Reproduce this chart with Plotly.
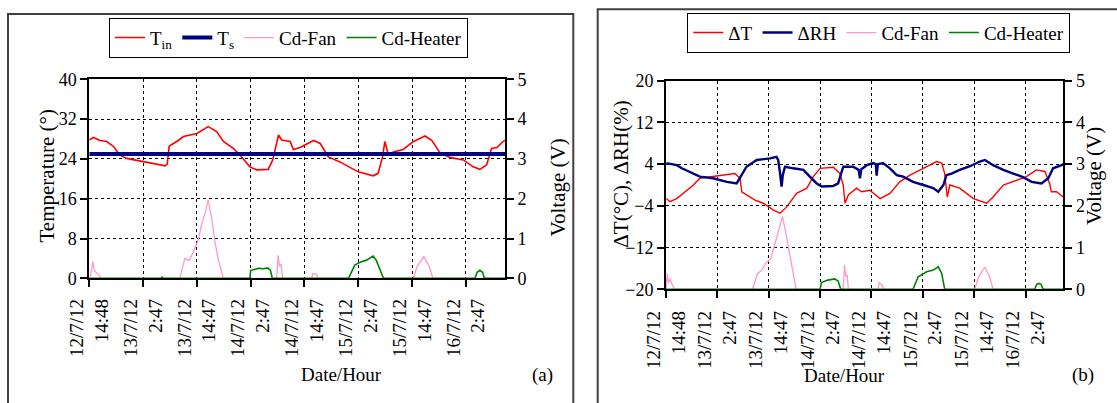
import plotly.graph_objects as go

# ---------------- data: panel (a) ----------------
tick_hours = [0, 11.98, 23.98, 35.98, 47.98, 59.98, 71.98, 83.98]
tick_labels = ["12/7/12<br>14:48", "13/7/12<br>2:47", "13/7/12<br>14:47", "14/7/12<br>2:47",
               "14/7/12<br>14:47", "15/7/12<br>2:47", "15/7/12<br>14:47", "16/7/12<br>2:47"]

a_tin_h = [0, 0.9, 2.4, 3.9, 5.4, 6.8, 8.3, 12.0, 15.8, 16.9, 17.4, 17.8, 18.2, 19.5, 21.0, 24.0,
           26.5, 28.4, 29.9, 32.1, 33.6, 35.8, 37.3, 39.9, 40.9, 41.4, 42.2, 42.9, 44.8, 45.5,
           47.0, 50.0, 51.5, 53.3, 55.9, 58.1, 60.0, 63.3, 64.4, 65.4, 65.9, 66.7, 67.8, 70.0,
           72.3, 74.9, 76.4, 78.2, 80.4, 83.4, 85.6, 87.1, 88.6, 89.7, 90.9, 92.3, 92.7]
a_tin = [27.8, 28.3, 27.7, 27.5, 26.5, 24.8, 24.1, 23.4, 22.8, 22.6, 23.0, 26.5, 26.8, 27.5, 28.5,
         29.1, 30.5, 29.5, 27.5, 26.1, 24.8, 22.4, 21.8, 21.9, 23.8, 25.8, 28.8, 27.8, 27.5, 25.9,
         26.3, 27.7, 27.1, 24.4, 23.4, 22.3, 21.4, 20.6, 21.1, 24.4, 27.5, 24.8, 25.4, 25.9,
         27.5, 28.6, 27.7, 25.2, 24.3, 23.8, 22.4, 21.9, 22.8, 26.1, 26.3, 27.5, 27.8]
a_ts_h = [0, 92.7]
a_ts = [25.0, 25.0]

a_fan_h = [0, 0.4, 0.8, 1.1, 1.5, 2.2, 2.6, 20.2, 21.3, 22.3, 23.2, 24.3, 25.1, 25.8, 26.5, 27.3,
           28.0, 28.8, 29.9, 41.8, 42.1, 42.4, 42.8, 43.1, 49.6, 49.8, 50.7, 50.9, 72.3, 73.1,
           74.6, 75.8, 76.6, 92.7]
a_fan = [0, 0.15, 0.42, 0.2, 0.15, 0.08, 0, 0, 0.5, 0.45, 0.67, 0.96, 1.38, 1.63, 1.97, 1.5,
         0.92, 0.46, 0, 0, 0.58, 0.3, 0.35, 0, 0, 0.12, 0.1, 0, 0, 0.3,
         0.54, 0.3, 0, 0]

a_heat_h = [0, 16.0, 16.2, 16.4, 35.8, 36.0, 36.8, 37.8, 38.8, 39.8, 40.4, 40.8, 57.8, 58.5, 59.2,
            60.5, 61.7, 63.3, 64.0, 65.6, 86.0, 86.5, 87.1, 87.7, 88.1, 92.7]
a_heat = [0, 0, 0.03, 0, 0, 0.2, 0.22, 0.25, 0.24, 0.26, 0.2, 0, 0, 0.15, 0.33,
          0.41, 0.45, 0.56, 0.45, 0, 0, 0.15, 0.2, 0.15, 0, 0]

# ---------------- data: panel (b) ----------------
b_drh_h = [0.1, 2.5, 3.7, 6.4, 7.9, 11.0, 14.2, 16.5, 17.7, 18.8, 21.2, 24.3, 25.8, 26.2, 26.6,
           27.0, 27.3, 27.8, 29.7, 32.1, 33.6, 35.2, 36.4, 39.0, 40.2, 41.4, 43.7, 45.0, 45.3,
           45.6, 46.9, 48.4, 49.0, 49.2, 49.5, 50.7, 52.3, 53.9, 55.4, 57.7, 60.1, 62.4, 63.6,
           64.8, 65.5, 66.7, 68.6, 71.0, 73.3, 74.5, 76.4, 78.8, 81.1, 83.4, 85.4, 87.7, 89.3,
           90.4, 92.4, 92.8]
b_drh = [4.2, 3.8, 3.2, 2.2, 1.6, 1.3, 0.6, 0.3, 1.9, 3.5, 4.8, 5.1, 5.4, 4.8, 2.5,
         -0.3, 2.0, 3.5, 3.2, 2.9, 1.6, 0.3, -0.3, -0.2, 0.3, 3.5, 3.5, 2.9, 1.3,
         3.0, 3.8, 4.2, 4.0, 1.8, 4.0, 4.2, 3.2, 1.9, 1.6, 0.6, 0.0, -0.6, -1.3,
         0.0, 1.9, 2.2, 2.9, 3.6, 4.5, 4.8, 3.8, 2.9, 2.2, 1.5, 0.6, 0.3, 1.3,
         3.2, 3.8, 4.0]

b_dt_h = [0.1, 0.9, 2.5, 4.0, 6.4, 7.9, 11.0, 14.2, 16.1, 17.3, 17.7, 18.8, 20.8, 22.7, 25.1,
          26.6, 28.2, 30.5, 32.9, 34.4, 36.0, 39.1, 40.6, 41.4, 41.8, 42.6, 44.5, 45.7, 47.6,
          50.0, 52.3, 54.6, 57.0, 60.1, 63.2, 64.4, 65.1, 65.7, 66.3, 68.6, 71.8, 74.9, 76.4,
          78.8, 81.9, 84.2, 86.5, 88.5, 89.6, 90.0, 91.2, 92.8]
b_dt = [-2.6, -3.2, -2.6, -1.6, 0.0, 1.3, 1.6, 1.9, 2.2, 1.3, -1.3, -1.9, -2.9, -3.5, -4.8,
        -5.4, -4.2, -1.6, -0.6, 1.6, 3.2, 3.4, 2.2, 0.0, -3.5, -1.9, -0.6, -1.3, -1.0,
        -2.6, -1.6, 0.6, 1.9, 3.2, 4.5, 4.2, 2.2, -2.3, 0.0, -0.6, -2.6, -3.5, -2.3,
        0.0, 1.0, 1.6, 2.9, 2.6, 0.3, -1.3, -1.3, -2.3]

b_fan_h = [0, 0.3, 0.6, 1.0, 1.4, 2.0, 20.2, 21.4, 22.3, 23.3, 24.5, 25.7, 26.5, 27.2, 28.0,
           29.2, 29.9, 30.4, 41.4, 41.7, 42.0, 42.3, 42.6, 49.5, 49.8, 50.5, 50.8, 72.1, 73.0,
           74.5, 75.6, 76.4, 92.8]
b_fan = [0, 0.38, 0.15, 0.25, 0.12, 0, 0, 0.38, 0.45, 0.62, 0.74, 1.18, 1.46, 1.74, 1.34,
         0.7, 0.3, 0, 0, 0.58, 0.3, 0.35, 0, 0, 0.16, 0.1, 0, 0, 0.3,
         0.53, 0.3, 0, 0]

b_heat_h = [0, 36.0, 36.3, 37.8, 39.4, 40.2, 40.8, 57.7, 58.9, 60.9, 62.4, 63.6, 64.4, 65.1,
            86.1, 86.6, 87.1, 87.6, 88.1, 92.8]
b_heat = [0, 0, 0.16, 0.22, 0.25, 0.2, 0, 0, 0.3, 0.42, 0.46, 0.54, 0.38, 0,
          0, 0.12, 0.14, 0.12, 0, 0]

left_ticks_a = [0, 8, 16, 24, 32, 40]
left_ticks_b = [-20, -12, -4, 4, 12, 20]
volt_ticks = [0, 1, 2, 3, 4, 5]

# ---------------- styling ----------------
W, H = 1117, 403
FONT = "Liberation Serif, Times New Roman, serif"
RED, NAVY, PINK, GREEN = "#FF0000", "#000080", "#FF99CC", "#008000"


def px_x(p):
    return p / W


def px_y(p):
    return 1 - p / H


fig = go.Figure()

# panel (a)
fig.add_trace(go.Scatter(x=a_tin_h, y=a_tin, name="T<sub>in</sub>", mode="lines",
                         line=dict(color=RED, width=1.6), xaxis="x", yaxis="y", legend="legend"))
fig.add_trace(go.Scatter(x=a_ts_h, y=a_ts, name="T<sub>s</sub>", mode="lines",
                         line=dict(color=NAVY, width=4), xaxis="x", yaxis="y", legend="legend"))
fig.add_trace(go.Scatter(x=a_fan_h, y=a_fan, name="Cd-Fan", mode="lines",
                         line=dict(color=PINK, width=1.3), xaxis="x", yaxis="y2", legend="legend"))
fig.add_trace(go.Scatter(x=a_heat_h, y=a_heat, name="Cd-Heater", mode="lines",
                         line=dict(color=GREEN, width=1.6), xaxis="x", yaxis="y2", legend="legend"))

# panel (b)
fig.add_trace(go.Scatter(x=b_dt_h, y=b_dt, name="ΔT", mode="lines",
                         line=dict(color=RED, width=1.4), xaxis="x2", yaxis="y3", legend="legend2"))
fig.add_trace(go.Scatter(x=b_drh_h, y=b_drh, name="ΔRH", mode="lines",
                         line=dict(color=NAVY, width=2.4), xaxis="x2", yaxis="y3", legend="legend2"))
fig.add_trace(go.Scatter(x=b_fan_h, y=b_fan, name="Cd-Fan", mode="lines",
                         line=dict(color=PINK, width=1.3), xaxis="x2", yaxis="y4", legend="legend2"))
fig.add_trace(go.Scatter(x=b_heat_h, y=b_heat, name="Cd-Heater", mode="lines",
                         line=dict(color=GREEN, width=1.6), xaxis="x2", yaxis="y4", legend="legend2"))

grid = dict(showgrid=True, gridcolor="black", gridwidth=1, griddash="3px,3px", zeroline=False)
axbase = dict(showline=True, linecolor="black", linewidth=2, ticks="outside", ticklen=7,
              tickcolor="black", tickwidth=1.5, automargin=False)
ytickfont = dict(family=FONT, size=18, color="black")
xtickfont = dict(family=FONT, size=19, color="black")

xa_dom = [px_x(89.3), px_x(505)]
ya_dom = [px_y(278.3), px_y(79.3)]
xb_dom = [px_x(666), px_x(1063.3)]
yb_dom = [px_y(289.3), px_y(80.7)]

legend_style = dict(orientation="h", xanchor="left", yanchor="top", bordercolor="black",
                    borderwidth=1, bgcolor="white", font=dict(family=FONT, size=19, color="black"))

fig.update_layout(
    width=W, height=H, margin=dict(l=0, r=0, t=0, b=0, pad=0), autosize=False,
    paper_bgcolor="white", plot_bgcolor="white",
    font=dict(family=FONT, size=18, color="black"),
    xaxis=dict(domain=xa_dom, range=[0, 92.7], anchor="y", tickvals=tick_hours, ticktext=tick_labels,
               tickangle=-90, mirror=True, ticklabelstandoff=4, tickfont=xtickfont, **grid, **axbase),
    yaxis=dict(domain=ya_dom, range=[0, 40], tickvals=left_ticks_a, anchor="x", mirror=True,
               tickfont=ytickfont, **grid, **axbase),
    yaxis2=dict(range=[0, 5], tickvals=volt_ticks, overlaying="y", side="right", anchor="x",
                showgrid=False, zeroline=False, tickfont=ytickfont, **axbase),
    xaxis2=dict(domain=xb_dom, range=[0, 92.8], anchor="y3", tickvals=tick_hours, ticktext=tick_labels,
                tickangle=-90, mirror=True, ticklabelstandoff=5, tickfont=xtickfont, **grid, **axbase),
    yaxis3=dict(domain=yb_dom, range=[-20, 20], tickvals=left_ticks_b, anchor="x2", mirror=True,
                tickfont=ytickfont, **grid, **axbase),
    yaxis4=dict(range=[0, 5], tickvals=volt_ticks, overlaying="y3", side="right", anchor="x2",
                showgrid=False, zeroline=False, tickfont=ytickfont, **axbase),
    legend=dict(x=px_x(109), y=px_y(17.7), **legend_style),
    legend2=dict(x=px_x(687.3), y=px_y(12.7), **legend_style),
)

# panel frames
fig.add_shape(type="rect", xref="paper", yref="paper", x0=px_x(8), x1=px_x(573.3),
              y0=-0.2, y1=px_y(14), line=dict(color="#404040", width=2), layer="below")
fig.add_shape(type="rect", xref="paper", yref="paper", x0=px_x(597.7), x1=1.2,
              y0=-0.2, y1=px_y(9.3), line=dict(color="#404040", width=2), layer="below")

ann = dict(xref="paper", yref="paper", showarrow=False)
rot_font = dict(family=FONT, size=21, color="black")
flat_font = dict(family=FONT, size=19, color="black")
fig.add_annotation(text="Temperature (°)", x=px_x(32.5), y=px_y(176), textangle=-90, font=rot_font, **ann)
fig.add_annotation(text="Voltage (V)", x=px_x(557.5), y=px_y(188), textangle=-90, font=rot_font, **ann)
fig.add_annotation(text="Date/Hour", x=px_x(299), y=px_y(387), font=flat_font, **ann)
fig.add_annotation(text="(a)", x=px_x(542.5), y=px_y(388), font=flat_font, **ann)
fig.add_annotation(text="ΔT(°C), ΔRH(%)", x=px_x(620.7), y=px_y(174), textangle=-90, font=rot_font, **ann)
fig.add_annotation(text="Voltage (V)", x=px_x(1108), y=px_y(176), textangle=-90, font=rot_font, **ann)
fig.add_annotation(text="Date/Hour", x=px_x(886.8), y=px_y(388), font=flat_font, **ann)
fig.add_annotation(text="(b)", x=px_x(1095.7), y=px_y(388), font=flat_font, **ann)

fig.write_html("out.html", config={"displayModeBar": False},
               post_script="document.body.style.margin='0px';")
